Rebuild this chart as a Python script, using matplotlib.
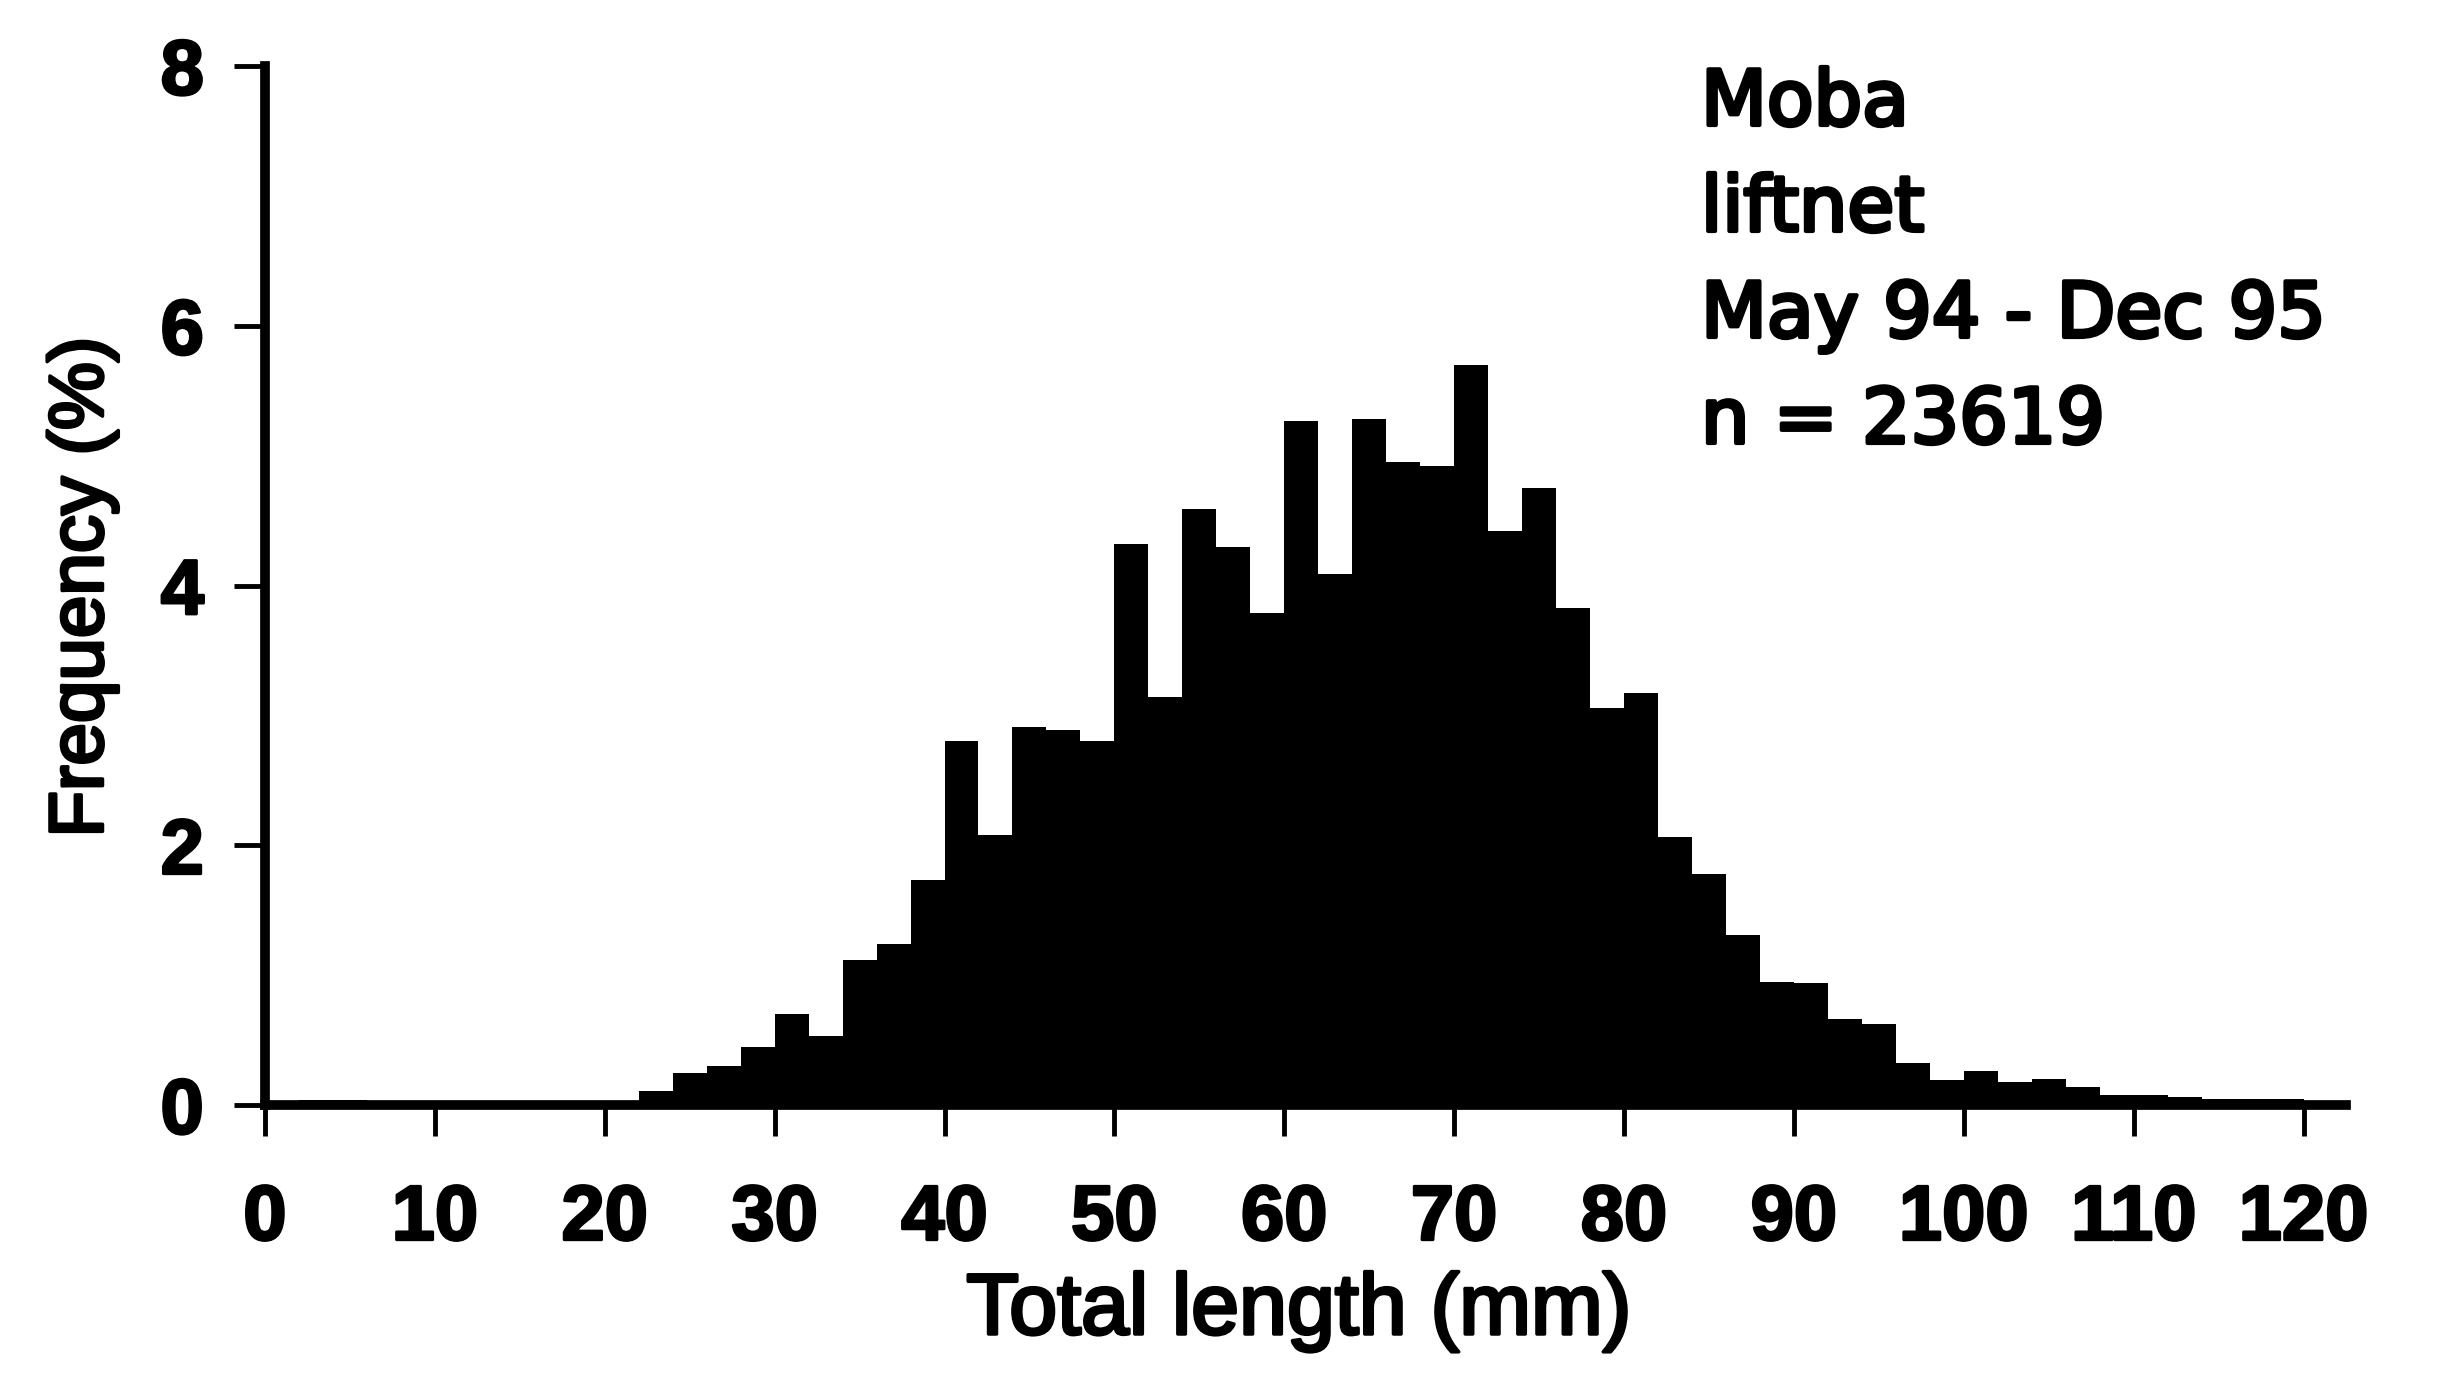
import matplotlib
matplotlib.use("Agg")
import matplotlib.pyplot as plt
import matplotlib.patheffects as pe
from matplotlib.font_manager import FontProperties

# ---- data (percent frequency per 2-mm length class) ----
bin_left = list(range(0, 122, 2))  # 0,2,...,120
freq = [0.03, 0.04, 0.04, 0.01, 0.01, 0.01, 0.01, 0.01, 0.01, 0.01,
        0.01, 0.11, 0.25, 0.30, 0.45, 0.70, 0.53, 1.12, 1.24, 1.73,
        2.80, 2.08, 2.91, 2.89, 2.80, 4.32, 3.14, 4.59, 4.30, 3.79,
        5.27, 4.09, 5.28, 4.95, 4.92, 5.70, 4.42, 4.75, 3.83, 3.06,
        3.17, 2.06, 1.78, 1.31, 0.95, 0.94, 0.66, 0.62, 0.32, 0.19,
        0.26, 0.18, 0.20, 0.14, 0.08, 0.08, 0.06, 0.05, 0.05, 0.05,
        0.03]
xticks = list(range(0, 121, 10))
yticks = [0, 2, 4, 6, 8]
annot_lines = ["Moba", "liftnet", "May 94 - Dec 95", "n = 23619"]
xlabel = "Total length (mm)"
ylabel = "Frequency (%)"

W, H = 2454, 1395
fig = plt.figure(figsize=(W / 100, H / 100), dpi=100)
fig.patch.set_facecolor("white")

x0, x1 = 265, 2346
y0, y1 = 1105, 66
ax = fig.add_axes([x0 / W, 1 - y0 / H, (x1 - x0) / W, (y0 - y1) / H])

ax.bar(bin_left, freq, width=2, align="edge", color="black", linewidth=0)

ax.set_xlim(0, 122.5)
ax.set_ylim(0, 8)
for s in ("top", "right"):
    ax.spines[s].set_visible(False)
for s in ("left", "bottom"):
    ax.spines[s].set_linewidth(7)
    ax.spines[s].set_color("black")
    ax.spines[s].set_zorder(5)

ax.set_xticks(xticks)
ax.set_yticks(yticks)
ax.set_xticklabels([str(v) for v in xticks])
ax.set_yticklabels([str(v) for v in yticks])
ax.tick_params(axis="both", direction="out", length=22, width=3.5, color="black")
ax.tick_params(axis="x", pad=34)
ax.tick_params(axis="y", pad=22)

tick_fp = FontProperties(family=["Liberation Sans", "DejaVu Sans"], weight="bold", size=56)
stroke = [pe.withStroke(linewidth=2, foreground="black")]
for lab in ax.get_xticklabels() + ax.get_yticklabels():
    lab.set_fontproperties(tick_fp)
    lab.set_path_effects(stroke)

fig.text(1299 / W, 1 - 1312 / H, xlabel, ha="center", va="center",
         family=["Liberation Sans", "DejaVu Sans"], size=62,
         path_effects=[pe.withStroke(linewidth=2.5, foreground="black")])
fig.text(83 / W, 1 - 587 / H, ylabel, ha="center", va="center", rotation=90,
         family=["Liberation Sans", "DejaVu Sans"], size=55,
         path_effects=[pe.withStroke(linewidth=2.5, foreground="black")])

baselines = [125, 231, 337, 443]
for txt, b in zip(annot_lines, baselines):
    fig.text(1701 / W, 1 - b / H, txt, ha="left", va="baseline",
             family=["DejaVu Sans"], size=55,
             path_effects=[pe.withStroke(linewidth=3, foreground="black")])

fig.savefig("out.png", dpi=100, facecolor="white")
